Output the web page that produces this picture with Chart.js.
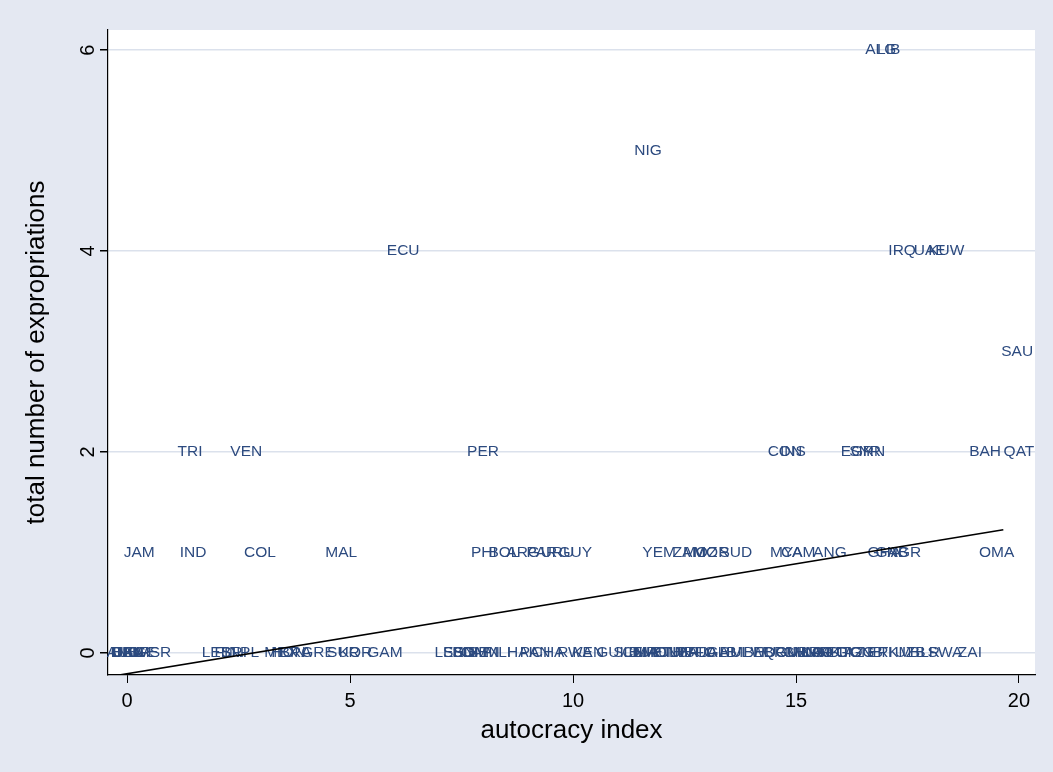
<!DOCTYPE html>
<html>
<head>
<meta charset="utf-8">
<title>Expropriations vs autocracy</title>
<script src="https://cdn.jsdelivr.net/npm/chart.js@4.4.1/dist/chart.umd.min.js"></script>
<style>
  html, body { margin: 0; padding: 0; background: #e4e8f2; }
  canvas { display: block; }
</style>
</head>
<body>
<canvas id="scatter" width="1053" height="772"></canvas>
<script>
// country codes, autocracy index, total number of expropriations
const countries = [
  'AUS','BEL','CAN','DEN','USA','UKG','NOR','SWE','ISR',
  'LEB','FIJ','SRI','NPL',
  'MEX','HON','BRA','GRE','SUR','KOR','GAM',
  'LES','SEN','BDI','SOM','CAF','BEN','MLI','HAI','PAN','CHA',
  'RWA','KEN','GUI','SLE','CMR','BUR','MAU','MON','ETH','TUN',
  'LBR','MAD','BFO','UGA','ALB','BUL','MLW','BHU','EQG','BRN',
  'CUB','CHN','MNG','VNM','LAO','PRK','AFG','DJI','TAZ','TOG',
  'GNB','ERI','TKM','UZB','BLR','SWA','ZAI',
  'JAM','IND','COL','MAL','PHI','BOL','ARG','PAR','URU','GUY',
  'YEM','ZAM','MOZ','MOR','SUD','MYA','CAM','ANG','GHA','GAB','NGR','OMA',
  'TRI','VEN','PER','CON','INS','EGY','SYR','IRN','BAH','QAT',
  'SAU',
  'ECU','IRQ','UAE','KUW',
  'NIG',
  'ALG','LIB'
];
const autocracy = [
  -0.1, 0, 0, 0, 0, 0.05, 0.15, 0.3, 0.7,
  2.0, 2.2, 2.4, 2.62,
  3.45, 3.62, 3.78, 4.28, 4.85, 5.12, 5.78,
  7.22, 7.44, 7.58, 7.69, 7.83, 8.0, 8.32, 8.81, 9.15, 9.44,
  10.04, 10.34, 10.83, 11.23, 11.5, 11.61, 11.77, 11.95, 12.13, 12.31,
  12.49, 12.67, 12.85, 13.12, 13.34, 13.63, 13.92, 14.19, 14.42, 14.64,
  14.91, 15.09, 15.22, 15.36, 15.49, 15.65, 15.81, 15.99, 16.21, 16.39,
  16.57, 16.88, 17.22, 17.56, 17.89, 18.34, 18.9,
  0.27, 1.48, 2.98, 4.8, 8.0, 8.45, 8.88, 9.3, 9.65, 10.05,
  11.93, 12.6, 12.85, 13.1, 13.65, 14.78, 15.05, 15.76, 16.98, 17.15, 17.42, 19.5,
  1.41, 2.67, 7.98, 14.75, 14.93, 16.37, 16.55, 16.7, 19.24, 20.0,
  19.96,
  6.19, 17.38, 18.0, 18.37,
  11.68,
  16.9, 17.08
];
const expropriations = [
  0, 0, 0, 0, 0, 0, 0, 0, 0,
  0, 0, 0, 0,
  0, 0, 0, 0, 0, 0, 0,
  0, 0, 0, 0, 0, 0, 0, 0, 0, 0,
  0, 0, 0, 0, 0, 0, 0, 0, 0, 0,
  0, 0, 0, 0, 0, 0, 0, 0, 0, 0,
  0, 0, 0, 0, 0, 0, 0, 0, 0, 0,
  0, 0, 0, 0, 0, 0, 0,
  1, 1, 1, 1, 1, 1, 1, 1, 1, 1,
  1, 1, 1, 1, 1, 1, 1, 1, 1, 1, 1, 1,
  2, 2, 2, 2, 2, 2, 2, 2, 2, 2,
  3,
  4, 4, 4, 4,
  5,
  6, 6
];

// linear fit, end points
const fitX = [-0.3, 19.65];
const fitY = [-0.229, 1.225];

const xTicks = [0, 5, 10, 15, 20];
const yTicks = [0, 2, 4, 6];

const FONT = "'Liberation Sans', Arial, Helvetica, sans-serif";
const labelColor = '#2c4a7f';

const points = autocracy.map((x, i) => ({ x: x, y: expropriations[i], code: countries[i] }));
const fitLine = fitX.map((x, i) => ({ x: x, y: fitY[i] }));

//background + white plot region
const bgPlugin = {
  id: 'bg',
  beforeDraw(chart) {
    const c = chart.ctx, a = chart.chartArea;
    c.save();
    c.fillStyle = '#e4e8f2';
    c.fillRect(0, 0, chart.width, chart.height);
    c.fillStyle = '#ffffff';
    c.fillRect(a.left, a.top, a.right - a.left, a.bottom - a.top);
    c.restore();
  }
};

//country codes as marker labels, under the fit line
const labelPlugin = {
  id: 'mlabels',
  beforeDatasetsDraw(chart) {
    const c = chart.ctx;
    const xs = chart.scales.x, ys = chart.scales.y;
    c.save();
    c.font = '15.5px ' + FONT;
    c.fillStyle = labelColor;
    c.textAlign = 'center';
    c.textBaseline = 'middle';
    points.forEach(p => {
      c.fillText(p.code, xs.getPixelForValue(p.x), ys.getPixelForValue(p.y));
    });
    c.restore();
  },
  afterDraw(chart) {
    const c = chart.ctx, a = chart.chartArea;
    const ys = chart.scales.y;
    c.save();
    c.fillStyle = '#000';
    c.textAlign = 'center';
    c.textBaseline = 'middle';
    // rotated y tick labels
    c.font = '20px ' + FONT;
    yTicks.forEach(v => {
      c.save();
      c.translate(88, ys.getPixelForValue(v));
      c.rotate(-Math.PI / 2);
      c.fillText(String(v), 0, 0);
      c.restore();
    });
    // axis titles
    c.font = '26px ' + FONT;
    c.save();
    c.translate(37, (a.top + a.bottom) / 2);
    c.rotate(-Math.PI / 2);
    c.fillText('total number of expropriations', 0, 0);
    c.restore();
    c.fillText('autocracy index', (a.left + a.right) / 2, 731);
    c.restore();
  }
};

const ctx = document.getElementById('scatter').getContext('2d');
const chart = new Chart(ctx, {
  type: 'scatter',
  data: {
    datasets: [
      {
        data: points,
        pointRadius: 0,
        pointHoverRadius: 0,
        showLine: false
      },
      {
        type: 'line',
        data: fitLine,
        borderColor: '#000000',
        borderWidth: 1.6,
        pointRadius: 0,
        fill: false,
        tension: 0
      }
    ]
  },
  options: {
    responsive: false,
    animation: false,
    layout: { padding: { top: 30, right: 18, left: 0, bottom: 0 } },
    plugins: {
      legend: { display: false },
      tooltip: { enabled: false }
    },
    scales: {
      x: {
        type: 'linear',
        min: -0.43,
        max: 20.36,
        afterBuildTicks: s => { s.ticks = xTicks.map(v => ({ value: v })); },
        afterFit: s => { s.height = 97; },
        grid: { drawOnChartArea: false, drawTicks: true, tickLength: 8, tickColor: '#000' },
        border: { display: true, color: '#000', width: 1.2 },
        ticks: { color: '#000', font: { size: 20, family: FONT }, padding: 6, maxRotation: 0 }
      },
      y: {
        type: 'linear',
        min: -0.22,
        max: 6.2,
        afterBuildTicks: s => { s.ticks = yTicks.map(v => ({ value: v })); },
        afterFit: s => { s.width = 108; },
        grid: { color: '#dbe1ec', lineWidth: 1.5, tickColor: '#000', tickLength: 8 },
        border: { display: true, color: '#000', width: 1.2 },
        ticks: { display: false }
      }
    }
  },
  plugins: [bgPlugin, labelPlugin]
});
</script>
</body>
</html>
